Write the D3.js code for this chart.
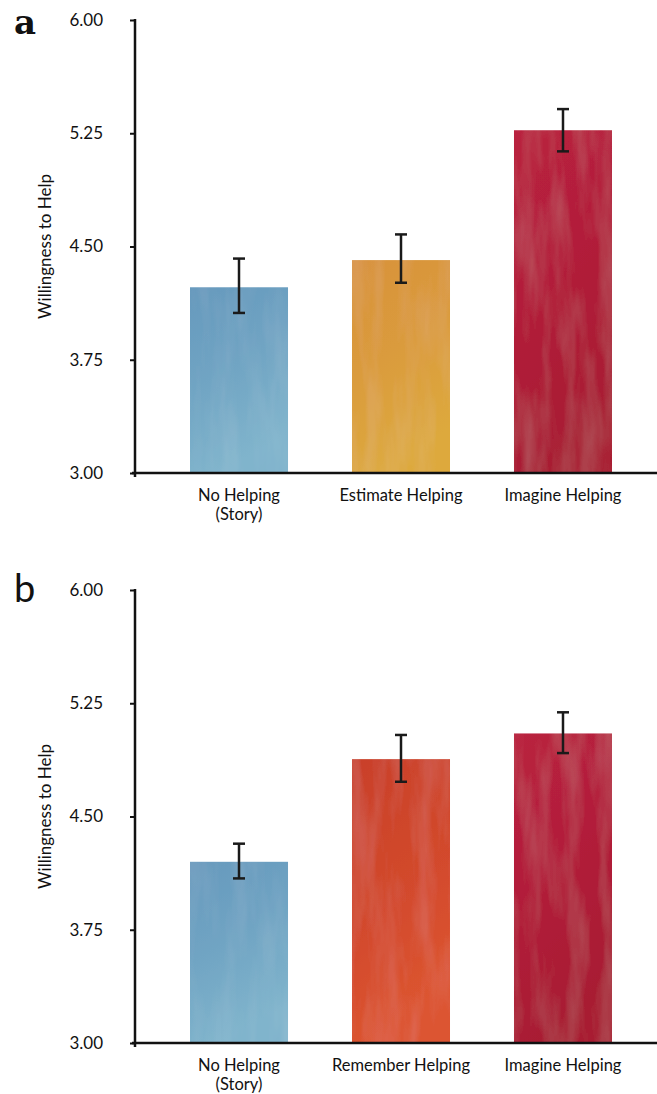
<!DOCTYPE html>
<head>
<meta charset="utf-8">
<style>
body { margin: 0; background: #fff; }
svg { display: block; }
.tick text { font-family: "Lato", "Open Sans", sans-serif; font-size: 17px; fill: #111; }
.ylab { font-family: "Lato", "Open Sans", sans-serif; font-size: 17px; fill: #111; }
.xlab { font-family: "Lato", "Open Sans", sans-serif; font-size: 16.5px; fill: #111; }
.panel { fill: #111; }
</style>
</head>
<body>
<svg width="657" height="1094"></svg>
<script src="https://cdn.jsdelivr.net/npm/d3@7"></script>
<script>
// panel a
var catsA = [["No Helping", "(Story)"], ["Estimate Helping"], ["Imagine Helping"]];
var meansA = [4.23, 4.41, 5.27];
var lowA = [4.06, 4.26, 5.13];
var highA = [4.42, 4.58, 5.41];
var colorsA = [["#6699bd", "#80b4cc"], ["#d8923a", "#dda93e"], ["#b9213f", "#a81a33"]];

// panel b
var catsB = [["No Helping", "(Story)"], ["Remember Helping"], ["Imagine Helping"]];
var meansB = [4.20, 4.88, 5.05];
var lowB = [4.09, 4.73, 4.92];
var highB = [4.32, 5.04, 5.19];
var colorsB = [["#6699bd", "#80b4cc"], ["#c9402a", "#dc5530"], ["#b9213f", "#a81a33"]];

var yTicks = [3.00, 3.75, 4.50, 5.25, 6.00];

var svg = d3.select("svg");
var defs = svg.append("defs");

// painterly streak texture
var f = defs.append("filter").attr("id", "paint")
    .attr("x", 0).attr("y", 0).attr("width", 1).attr("height", 1);
f.append("feTurbulence").attr("type", "fractalNoise")
    .attr("baseFrequency", "0.06 0.01").attr("numOctaves", 3).attr("seed", 7).attr("result", "noise");
f.append("feColorMatrix").attr("in", "noise").attr("type", "matrix")
    .attr("values", "0 0 0 0 1  0 0 0 0 1  0 0 0 0 1  0.9 0 0 0 -0.35").attr("result", "light");
f.append("feComposite").attr("in", "light").attr("in2", "SourceAlpha").attr("operator", "in").attr("result", "lightIn");
f.append("feComponentTransfer").attr("in", "lightIn").attr("result", "soft")
  .append("feFuncA").attr("type", "linear").attr("slope", 0.13);
var m = f.append("feMerge");
m.append("feMergeNode").attr("in", "SourceGraphic");
m.append("feMergeNode").attr("in", "soft");

function panel(id, top, label, cats, means, low, high, colors) {
  var left = 135, right = 657, bottom = top + 453;
  var g = svg.append("g");

  var y = d3.scaleLinear().domain([3, 6]).range([bottom, top]);
  var x = d3.scaleBand().domain(d3.range(cats.length)).range([157.6, 644.4]).paddingInner(0.395).paddingOuter(0.2);

  colors.forEach(function(c, i) {
    var gr = defs.append("linearGradient").attr("id", id + "g" + i)
        .attr("x1", 0).attr("y1", 0).attr("x2", 0.3).attr("y2", 1);
    gr.append("stop").attr("offset", 0).attr("stop-color", c[0]);
    gr.append("stop").attr("offset", 0.5).attr("stop-color", d3.interpolateRgb(c[0], c[1])(0.4));
    gr.append("stop").attr("offset", 1).attr("stop-color", c[1]);
  });

  g.selectAll("rect.bar").data(means).enter().append("rect")
      .attr("class", "bar")
      .attr("x", function(d, i) { return x(i); })
      .attr("y", function(d) { return y(d); })
      .attr("width", x.bandwidth())
      .attr("height", function(d) { return y(3) - y(d); })
      .attr("fill", function(d, i) { return "url(#" + id + "g" + i + ")"; })
      .attr("filter", "url(#paint)");

  // error bars
  var eb = g.selectAll("g.err").data(means).enter().append("g")
      .attr("stroke", "#1a1a1a").attr("stroke-width", 2.5);
  eb.append("line")
      .attr("x1", function(d, i) { return x(i) + x.bandwidth() / 2; })
      .attr("x2", function(d, i) { return x(i) + x.bandwidth() / 2; })
      .attr("y1", function(d, i) { return y(low[i]); })
      .attr("y2", function(d, i) { return y(high[i]); });
  [low, high].forEach(function(arr) {
    eb.append("line")
        .attr("x1", function(d, i) { return x(i) + x.bandwidth() / 2 - 6; })
        .attr("x2", function(d, i) { return x(i) + x.bandwidth() / 2 + 6; })
        .attr("y1", function(d, i) { return y(arr[i]); })
        .attr("y2", function(d, i) { return y(arr[i]); });
  });

  // y axis
  var ya = g.append("g").attr("transform", "translate(" + left + ",0)")
      .call(d3.axisLeft(y).tickValues(yTicks).tickFormat(d3.format(".2f")).tickSize(5).tickPadding(27));
  ya.select(".domain").remove();
  ya.selectAll(".tick line").attr("stroke", "#111").attr("stroke-width", 2);
  g.append("line").attr("x1", left).attr("x2", left).attr("y1", top - 1).attr("y2", bottom + 4)
      .attr("stroke", "#111").attr("stroke-width", 2.5);

  // x axis
  g.append("line").attr("x1", left - 3).attr("x2", right).attr("y1", bottom).attr("y2", bottom)
      .attr("stroke", "#111").attr("stroke-width", 2.5);

  var xl = g.selectAll("text.xlab").data(cats).enter().append("text")
      .attr("class", "xlab")
      .attr("text-anchor", "middle")
      .attr("x", function(d, i) { return x(i) + x.bandwidth() / 2; })
      .attr("y", bottom + 28);
  xl.selectAll("tspan").data(function(d) { return d; }).enter().append("tspan")
      .attr("x", function() { return d3.select(this.parentNode).attr("x"); })
      .attr("dy", function(d, j) { return j ? 19 : 0; })
      .text(function(d) { return d; });

  g.append("text").attr("class", "ylab").attr("text-anchor", "middle")
      .attr("transform", "translate(51," + (top + (bottom - top) * 0.5) + ") rotate(-90)")
      .text("Willingness to Help");

  var pl = g.append("text").attr("class", "panel")
      .attr("x", 14).attr("y", top + 14)
      .text(label);
  if (label == "a") {
    pl.style("font-family", "'DejaVu Serif', serif").style("font-weight", "bold").style("font-size", "34px");
  } else {
    pl.attr("y", top + 12).style("font-family", "Lato, sans-serif").style("font-size", "38px");
  }
}

panel("a", 20, "a", catsA, meansA, lowA, highA, colorsA);
panel("b", 590, "b", catsB, meansB, lowB, highB, colorsB);
</script>
</body>
